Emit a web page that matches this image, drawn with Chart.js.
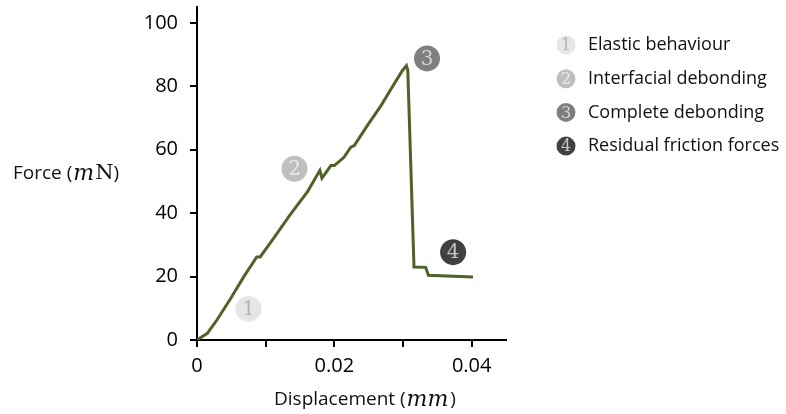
<!DOCTYPE html>
<html>
<head>
<meta charset="utf-8">
<script src="https://cdn.jsdelivr.net/npm/chart.js@4"></script>
<style>
  body { margin: 0; background: #fff; }
  #wrap { width: 786px; height: 414px; }
</style>
</head>
<body>
<div id="wrap"><canvas id="grafico"></canvas></div>
<script>
// force-displacement curve
const desloc = [0, 0.0015, 0.0029, 0.0049, 0.0068, 0.0087, 0.0092, 0.0112, 0.0136, 0.0161, 0.0179, 0.0182, 0.0190, 0.0195, 0.0200, 0.0214, 0.0224, 0.0229, 0.0248, 0.0268, 0.0287, 0.0299, 0.0305, 0.0307, 0.0316, 0.0333, 0.0337, 0.0402];
const forca = [0, 2.1, 6.3, 13.1, 19.9, 26.2, 26.2, 32.2, 39.6, 46.8, 53.5, 51.0, 53.5, 55.0, 55.0, 57.6, 60.8, 61.3, 67.6, 73.9, 80.7, 84.9, 86.5, 85.0, 23.0, 22.9, 20.4, 19.9];

// numbered stage markers
const etapas = ['Elastic behaviour', 'Interfacial debonding', 'Complete debonding', 'Residual friction forces'];
const etapaX = [0.0075, 0.0142, 0.0335, 0.0373];
const etapaY = [9.8, 54.0, 88.8, 27.7];
const corCirculo = ['#e6e6e6', '#bfbfbf', '#7f7f7f', '#404040'];
const corNumero = ['#b3b3b3', '#e8e8e8', '#d6d6d6', '#c4c4c4'];

const ticksY = [0, 20, 40, 60, 80, 100];
const ticksX = [0, 0.01, 0.02, 0.03, 0.04];
const rotulosX = ['0', '', '0.02', '', '0.04'];

const fonte = '"Open Sans", sans-serif';
const serif = '"DejaVu Serif", serif';

function textoMisto(ctx, partes, x, y) {
  let cx = x;
  ctx.textBaseline = 'middle';
  ctx.textAlign = 'left';
  partes.forEach(p => {
    ctx.font = p[1];
    ctx.fillText(p[0], cx, y);
    cx += ctx.measureText(p[0]).width + (p[2] || 0);
  });
}

function circulo(ctx, x, y, r, i, tam) {
  ctx.beginPath();
  ctx.arc(x, y, r, 0, Math.PI * 2);
  ctx.fillStyle = corCirculo[i];
  ctx.fill();
  ctx.fillStyle = corNumero[i];
  ctx.font = tam + 'px ' + serif;
  ctx.textAlign = 'center';
  ctx.textBaseline = 'middle';
  ctx.fillText(String(i + 1), x, y + 1);
}

const extras = {
  id: 'extras',
  afterDatasetsDraw(chart) {
    const ctx = chart.ctx;
    const sx = chart.scales.x, sy = chart.scales.y;
    ctx.save();
    etapas.forEach((e, i) => {
      circulo(ctx, sx.getPixelForValue(etapaX[i]), sy.getPixelForValue(etapaY[i]), 13, i, 20);
    });
    // legend
    etapas.forEach((e, i) => {
      const ly = 45 + i * 33.7;
      circulo(ctx, 566, ly, 9.5, i, 16);
      ctx.fillStyle = '#111';
      ctx.font = '18px ' + fonte;
      ctx.textAlign = 'left';
      ctx.textBaseline = 'middle';
      ctx.fillText(e, 588, ly);
    });
    // axis titles
    ctx.fillStyle = '#111';
    textoMisto(ctx, [['Force (', '19px ' + fonte, 1], ['m', 'italic 22px ' + serif, 1], ['N', '21px ' + serif, 0], [')', '19px ' + fonte]], 13, 174);
    textoMisto(ctx, [['Displacement (', '19px ' + fonte, 1], ['mm', 'italic 22px ' + serif, 2], [')', '19px ' + fonte]], 274, 400);
    ctx.restore();
  }
};

new Chart(document.getElementById('grafico'), {
  type: 'line',
  data: {
    datasets: [{
      data: desloc.map((d, i) => ({ x: d, y: forca[i] })),
      borderColor: '#4f6228',
      borderWidth: 3,
      pointRadius: 0,
      tension: 0,
      fill: false
    }]
  },
  options: {
    responsive: true,
    maintainAspectRatio: false,
    animation: false,
    layout: { padding: { left: 137, right: 280, top: 7, bottom: 24 } },
    scales: {
      x: {
        type: 'linear',
        min: 0,
        max: 0.045,
        afterFit: s => { s.height = 50; s.paddingLeft = 0; s.paddingRight = 0; },
        afterBuildTicks: s => { s.ticks = ticksX.map(v => ({ value: v })); },
        border: { color: '#000', width: 2 },
        grid: { drawOnChartArea: false, color: '#000', lineWidth: 2, tickLength: 7 },
        ticks: {
          color: '#000',
          font: { family: fonte, size: 20 },
          padding: 7,
          maxRotation: 0,
          callback: (v, i) => rotulosX[i]
        }
      },
      y: {
        min: 0,
        max: 105,
        afterFit: s => { s.width = 60; s.paddingTop = 0; s.paddingBottom = 0; },
        afterBuildTicks: s => { s.ticks = ticksY.map(v => ({ value: v })); },
        border: { color: '#000', width: 2 },
        grid: { drawOnChartArea: false, color: '#000', lineWidth: 2, tickLength: 7 },
        ticks: {
          color: '#000',
          font: { family: fonte, size: 20 },
          padding: 12,
          callback: v => String(v)
        }
      }
    },
    plugins: {
      legend: { display: false },
      tooltip: { enabled: false }
    }
  },
  plugins: [extras]
});
</script>
</body>
</html>
